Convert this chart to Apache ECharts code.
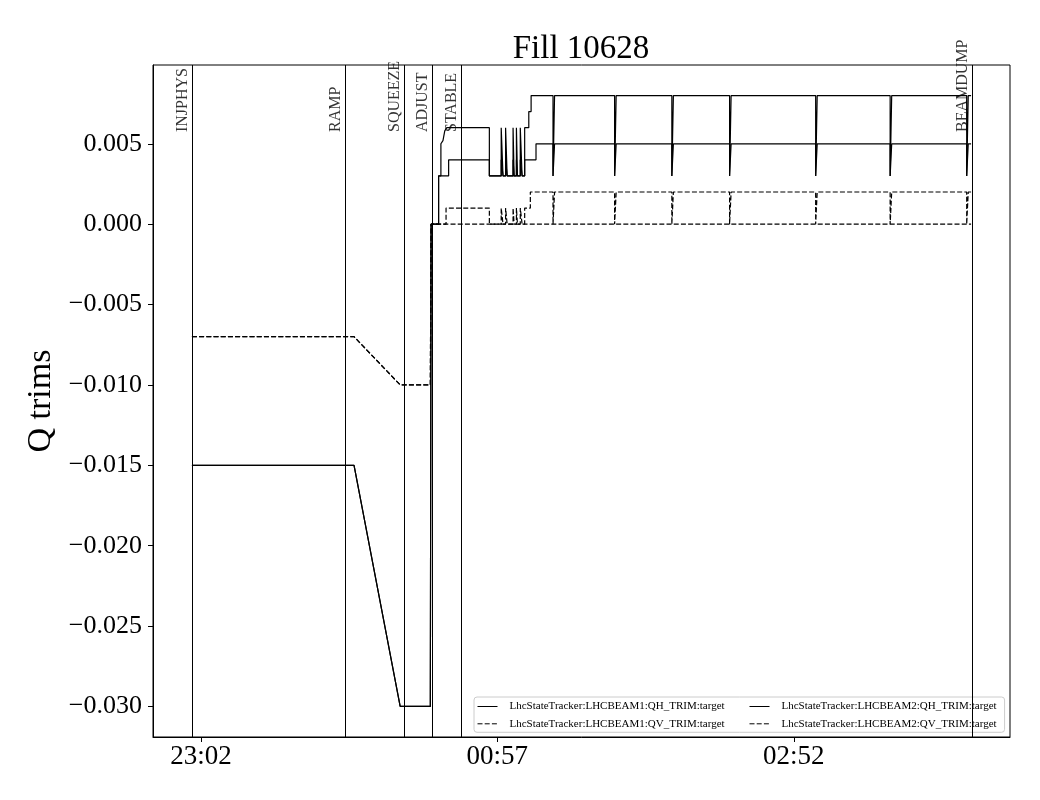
<!DOCTYPE html>
<html>
<head>
<meta charset="utf-8">
<script src="https://cdn.jsdelivr.net/npm/echarts@6/dist/echarts.min.js"></script>
<style>html,body{margin:0;padding:0;background:#fff;}#c{width:1040px;height:800px;}</style>
</head>
<body>
<div id="c"></div>
<script>
// ---- data (time = minutes since 22:00) ----
const title = 'Fill 10628';
const seriesNames = [
  'LhcStateTracker:LHCBEAM1:QH_TRIM:target',
  'LhcStateTracker:LHCBEAM1:QV_TRIM:target',
  'LhcStateTracker:LHCBEAM2:QH_TRIM:target',
  'LhcStateTracker:LHCBEAM2:QV_TRIM:target'
];
const b1qh = [
  [58.5,-0.015],[121.4,-0.015],[139.3,-0.030],[151.0,-0.030],[151.3,0.000],
  [154.2,0.000],[154.2,0.003],[155.1,0.003],[155.1,0.005],[155.9,0.0052],[156.6,0.0058],[157.4,0.006],
  [173.9,0.006],[173.9,0.003],[178.5,0.003],
  [178.5,0.006],[179.2,0.006],[179.2,0.003],[180.2,0.003],[180.2,0.006],[180.8,0.006],[180.8,0.003],
  [183.1,0.003],[183.1,0.006],[183.5,0.006],[183.5,0.003],[184.4,0.003],[184.4,0.006],[184.8,0.006],[184.8,0.003],
  [185.9,0.003],[185.9,0.006],[186.6,0.006],[186.6,0.003],[187.6,0.003],[187.6,0.006],
  [189.2,0.006],[189.2,0.007],[190.1,0.007],[190.1,0.008],
  [198.6,0.008],[198.6,0.003],[199.2,0.003],[199.2,0.008],
  [222.5,0.008],[222.5,0.003],[223.1,0.003],[223.1,0.008],
  [244.7,0.008],[244.7,0.003],[245.3,0.003],[245.3,0.008],
  [267.1,0.008],[267.1,0.003],[267.7,0.003],[267.7,0.008],
  [300.5,0.008],[300.5,0.003],[301.1,0.003],[301.1,0.008],
  [329.4,0.008],[329.4,0.003],[330.0,0.003],[330.0,0.008],
  [359.1,0.008],[359.1,0.003],[359.7,0.003],[359.7,0.008],[360.8,0.008]
];
const b2qh = [
  [58.5,-0.015],[121.4,-0.015],[139.3,-0.030],[151.0,-0.030],[151.3,0.000],
  [154.2,0.000],[154.2,0.003],[158.1,0.003],[158.1,0.004],
  [173.9,0.004],[173.9,0.003],[178.5,0.003],
  [178.5,0.004],[179.2,0.004],[179.2,0.003],[180.2,0.003],[180.2,0.004],[180.8,0.004],[180.8,0.003],
  [183.1,0.003],[183.1,0.004],[183.5,0.004],[183.5,0.003],[184.4,0.003],[184.4,0.004],[184.8,0.004],[184.8,0.003],
  [185.9,0.003],[185.9,0.004],[186.6,0.004],[186.6,0.003],[187.6,0.003],[187.6,0.004],
  [192.0,0.004],[192.0,0.005],
  [198.6,0.005],[198.6,0.003],[199.2,0.003],[199.2,0.005],
  [222.5,0.005],[222.5,0.003],[223.1,0.003],[223.1,0.005],
  [244.7,0.005],[244.7,0.003],[245.3,0.003],[245.3,0.005],
  [267.1,0.005],[267.1,0.003],[267.7,0.003],[267.7,0.005],
  [300.5,0.005],[300.5,0.003],[301.1,0.003],[301.1,0.005],
  [329.4,0.005],[329.4,0.003],[330.0,0.003],[330.0,0.005],
  [359.1,0.005],[359.1,0.003],[359.7,0.003],[359.7,0.005],[360.8,0.005]
];
const b1qv = [
  [58.5,-0.007],[121.4,-0.007],[139.3,-0.010],[151.0,-0.010],[151.3,0.000],
  [157.1,0.000],[157.1,0.001],[173.9,0.001],[173.9,0.000],[178.5,0.000],
  [178.5,0.001],[179.2,0.001],[179.2,0.000],[180.2,0.000],[180.2,0.001],[180.8,0.001],[180.8,0.000],
  [183.1,0.000],[183.1,0.001],[183.5,0.001],[183.5,0.000],[184.4,0.000],[184.4,0.001],[184.8,0.001],[184.8,0.000],
  [185.9,0.000],[185.9,0.001],[186.6,0.001],[186.6,0.000],[187.6,0.000],[187.6,0.001],
  [189.8,0.001],[189.8,0.002],
  [198.6,0.002],[198.6,0.000],[199.2,0.000],[199.2,0.002],
  [222.5,0.002],[222.5,0.000],[223.1,0.000],[223.1,0.002],
  [244.7,0.002],[244.7,0.000],[245.3,0.000],[245.3,0.002],
  [267.1,0.002],[267.1,0.000],[267.7,0.000],[267.7,0.002],
  [300.5,0.002],[300.5,0.000],[301.1,0.000],[301.1,0.002],
  [329.4,0.002],[329.4,0.000],[330.0,0.000],[330.0,0.002],
  [359.1,0.002],[359.1,0.000],[359.7,0.000],[359.7,0.002],[360.8,0.002]
];
const b2qv = [
  [58.5,-0.007],[121.4,-0.007],[139.3,-0.010],[151.0,-0.010],[151.3,0.000],[360.8,0.000]
];
const eventNames = ['INJPHYS','RAMP','SQUEEZE','ADJUST','STABLE','BEAMDUMP'];
const eventTimes = [58.5, 117.9, 140.9, 151.7, 163.0, 361.1];
const xTickValues = [62, 177, 292];
const xTickLabels = ['23:02', '00:57', '02:52'];
const yTickValues = [-0.030, -0.025, -0.020, -0.015, -0.010, -0.005, 0.000, 0.005];
const yTickLabels = ['\u22120.030', '\u22120.025', '\u22120.020', '\u22120.015', '\u22120.010', '\u22120.005', '0.000', '0.005'];

// ---- chart ----
const FONT = "'Liberation Serif', 'DejaVu Serif', serif";
const chart = echarts.init(document.getElementById('c'), null, {renderer: 'canvas'});
const LABEL_Y = 0.0057;
const solid = {color: '#000', width: 1.2, type: 'solid'};
const dashed = {color: '#000', width: 1.2, type: [5, 2.2]};
function lineSeries(name, data, style) {
  return {
    name: name, type: 'line', data: data, symbol: 'none', showSymbol: false,
    lineStyle: style, itemStyle: {color: '#000'}, animation: false, silent: true, z: 3
  };
}
const legendCommon = {
  orient: 'vertical', itemWidth: 20, itemHeight: 8, itemGap: 6.3,
  textStyle: {fontFamily: FONT, fontSize: 11, color: '#000', padding: [0, 0, 0, 7]},
  itemStyle: {color: 'rgba(0,0,0,0)', borderColor: 'rgba(0,0,0,0)', borderWidth: 0, opacity: 0},
  lineStyle: {width: 1},
  selectedMode: false
};
chart.setOption({
  animation: false,
  backgroundColor: '#fff',
  title: {
    text: title, left: 576, top: 28, textAlign: 'center',
    textStyle: {fontFamily: FONT, fontSize: 33, fontWeight: 'normal', color: '#000'}
  },
  grid: {left: 153, right: 30, top: 65, bottom: 63, show: true, borderColor: '#000', borderWidth: 1, backgroundColor: 'transparent'},
  legend: [
    Object.assign({}, legendCommon, {
      data: [seriesNames[0], seriesNames[1]], left: 474, top: 697,
      padding: [4, 280, 3, 3], borderColor: '#cccccc', borderWidth: 1, borderRadius: 3,
      backgroundColor: 'rgba(255,255,255,0.8)'
    }),
    Object.assign({}, legendCommon, {
      data: [seriesNames[2], seriesNames[3]], left: 749, top: 701, padding: 0
    })
  ],
  xAxis: {
    type: 'value', min: 43.4, max: 375.9,
    axisLine: {onZero: false, lineStyle: {color: '#000', width: 1}},
    axisTick: {show: true, length: 5, lineStyle: {color: '#000'}, customValues: xTickValues},
    axisLabel: {
      customValues: xTickValues, margin: 6,
      formatter: v => xTickLabels[xTickValues.indexOf(v)] || '',
      fontFamily: FONT, fontSize: 27, color: '#000'
    },
    splitLine: {show: false}
  },
  yAxis: {
    type: 'value', min: -0.0319, max: 0.0099,
    name: 'Q trims', nameLocation: 'middle', nameGap: 95,
    nameTextStyle: {fontFamily: FONT, fontSize: 34, color: '#000'},
    axisLine: {onZero: false, lineStyle: {color: '#000', width: 1}},
    axisTick: {show: true, length: 5, lineStyle: {color: '#000'}, customValues: yTickValues},
    axisLabel: {
      customValues: yTickValues, margin: 11,
      formatter: v => {
        let best = 0, bd = Infinity;
        yTickValues.forEach((t, i) => { const d = Math.abs(t - v); if (d < bd) { bd = d; best = i; } });
        return yTickLabels[best];
      },
      fontFamily: FONT, fontSize: 26, color: '#000'
    },
    splitLine: {show: false}
  },
  series: [
    lineSeries(seriesNames[0], b1qh, solid),
    lineSeries(seriesNames[1], b1qv, dashed),
    lineSeries(seriesNames[2], b2qh, solid),
    lineSeries(seriesNames[3], b2qv, dashed),
    {
      name: 'events', type: 'scatter', silent: true, animation: false, z: 4,
      symbolSize: 1, itemStyle: {color: 'rgba(0,0,0,0)'},
      data: eventTimes.map((t, i) => ({value: [t, LABEL_Y], name: eventNames[i]})),
      label: {
        show: true, formatter: p => p.name, rotate: 90, position: [-1, 0],
        align: 'left', verticalAlign: 'bottom',
        fontFamily: FONT, fontSize: 16, color: '#000'
      },
      labelLayout: {hideOverlap: false},
      markLine: {
        silent: true, symbol: 'none', animation: false,
        label: {show: false},
        lineStyle: {color: '#000', width: 1, type: 'solid'},
        data: eventTimes.map(t => ({xAxis: t}))
      }
    }
  ]
});
</script>
</body>
</html>
